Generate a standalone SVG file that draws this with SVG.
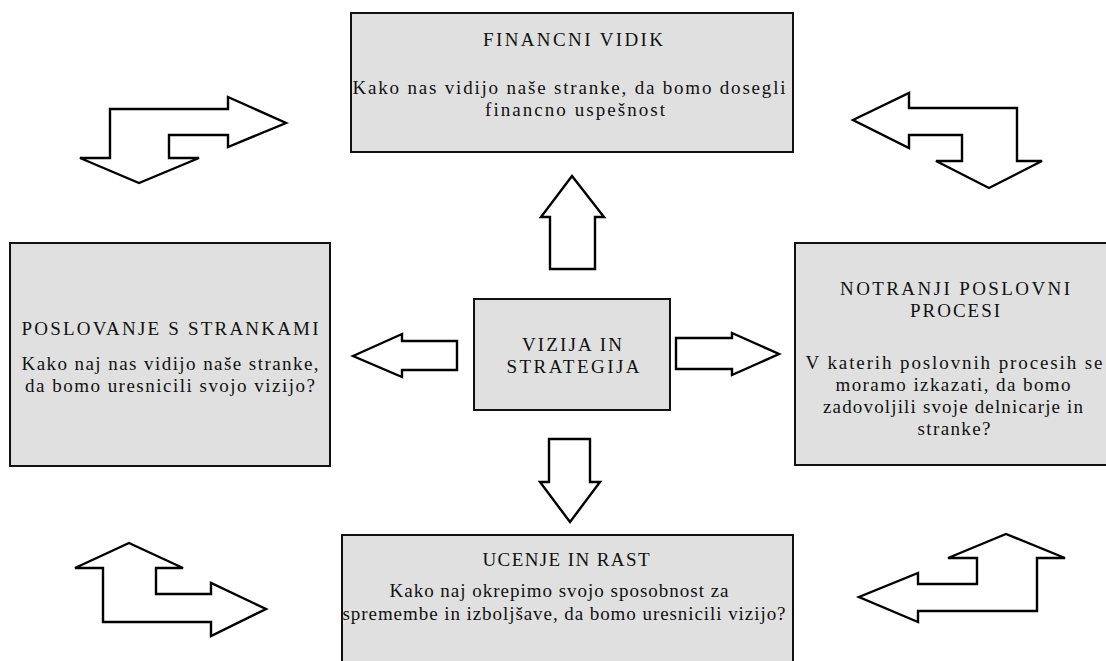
<svg xmlns="http://www.w3.org/2000/svg" width="1106" height="661" viewBox="0 0 1106 661">
  <style>
    .box { fill: #e0e0e0; stroke: #111; stroke-width: 2; }
    .arrow { fill: #fff; stroke: #000; stroke-width: 2.4; stroke-linejoin: miter; }
    text { font-family: "Liberation Serif", "Times New Roman", serif; font-size: 19px; fill: #111; text-anchor: middle; }
  </style>
  <rect width="1106" height="661" fill="#fff"/>

  <!-- Block arrows between the perspectives -->
  <g id="connectors">
    <polygon class="arrow" points="572,176 604,217 595,217 595,269 550,269 550,217 541,217"/>
    <polygon class="arrow" points="353,356 402,334 402,341 457,341 457,370 402,370 402,377"/>
    <polygon class="arrow" points="676,338 732,338 732,333 779,354 732,375 732,369 676,369"/>
    <polygon class="arrow" points="549,439 590,439 590,482 600,482 570,522 540,482 549,482"/>
    <polygon class="arrow" points="110,109 228,109 228,97 286,123 228,147 228,135 169,135 169,158 199,158 139,183 80,158 110,158"/>
    <polygon class="arrow" points="853,120 909,93 909,108 1017,108 1017,161 1042,161 989,188 936,161 962,161 962,135 909,135 909,148"/>
    <polygon class="arrow" points="129,543 183,568 156,568 156,594 211,594 211,583 266,609 211,636 211,622 103,622 103,568 75,568"/>
    <polygon class="arrow" points="1006,534 1065,558 1037,558 1037,611 918,611 918,622 859,597 918,573 918,584 977,584 977,558 948,558"/>
  </g>

  <g id="financni-vidik">
    <rect class="box" x="351" y="13" width="442" height="139"/>
    <text x="573" y="46" textLength="180" lengthAdjust="spacing">FINANCNI VIDIK</text>
    <text x="569" y="94" textLength="433" lengthAdjust="spacing">Kako nas vidijo naše stranke, da bomo dosegli</text>
    <text x="575" y="116" textLength="180" lengthAdjust="spacing">financno uspešnost</text>
  </g>

  <g id="poslovanje-s-strankami">
    <rect class="box" x="10" y="243" width="320" height="223"/>
    <text x="170" y="335" textLength="297" lengthAdjust="spacing">POSLOVANJE S STRANKAMI</text>
    <text x="170" y="370" textLength="297" lengthAdjust="spacing">Kako naj nas vidijo naše stranke,</text>
    <text x="170" y="392" textLength="290" lengthAdjust="spacing">da bomo uresnicili svojo vizijo?</text>
  </g>

  <g id="vizija-in-strategija">
    <rect class="box" x="474" y="299" width="196" height="111"/>
    <text x="572" y="351" textLength="100" lengthAdjust="spacing">VIZIJA IN</text>
    <text x="573" y="373" textLength="133" lengthAdjust="spacing">STRATEGIJA</text>
  </g>

  <g id="notranji-poslovni-procesi">
    <rect class="box" x="795" y="243" width="330" height="222"/>
    <text x="955" y="295" textLength="230" lengthAdjust="spacing">NOTRANJI POSLOVNI</text>
    <text x="955" y="317" textLength="90" lengthAdjust="spacing">PROCESI</text>
    <text x="954" y="369" textLength="297" lengthAdjust="spacing">V katerih poslovnih procesih se</text>
    <text x="953" y="391" textLength="235" lengthAdjust="spacing">moramo izkazati, da bomo</text>
    <text x="953" y="413" textLength="260" lengthAdjust="spacing">zadovoljili svoje delnicarje in</text>
    <text x="954" y="435" textLength="73" lengthAdjust="spacing">stranke?</text>
  </g>

  <g id="ucenje-in-rast">
    <rect class="box" x="342" y="535" width="451" height="140"/>
    <text x="566" y="566" textLength="167" lengthAdjust="spacing">UCENJE IN RAST</text>
    <text x="559" y="597" textLength="339" lengthAdjust="spacing">Kako naj okrepimo svojo sposobnost za</text>
    <text x="564" y="620" textLength="443" lengthAdjust="spacing">spremembe in izboljšave, da bomo uresnicili vizijo?</text>
  </g>
</svg>
